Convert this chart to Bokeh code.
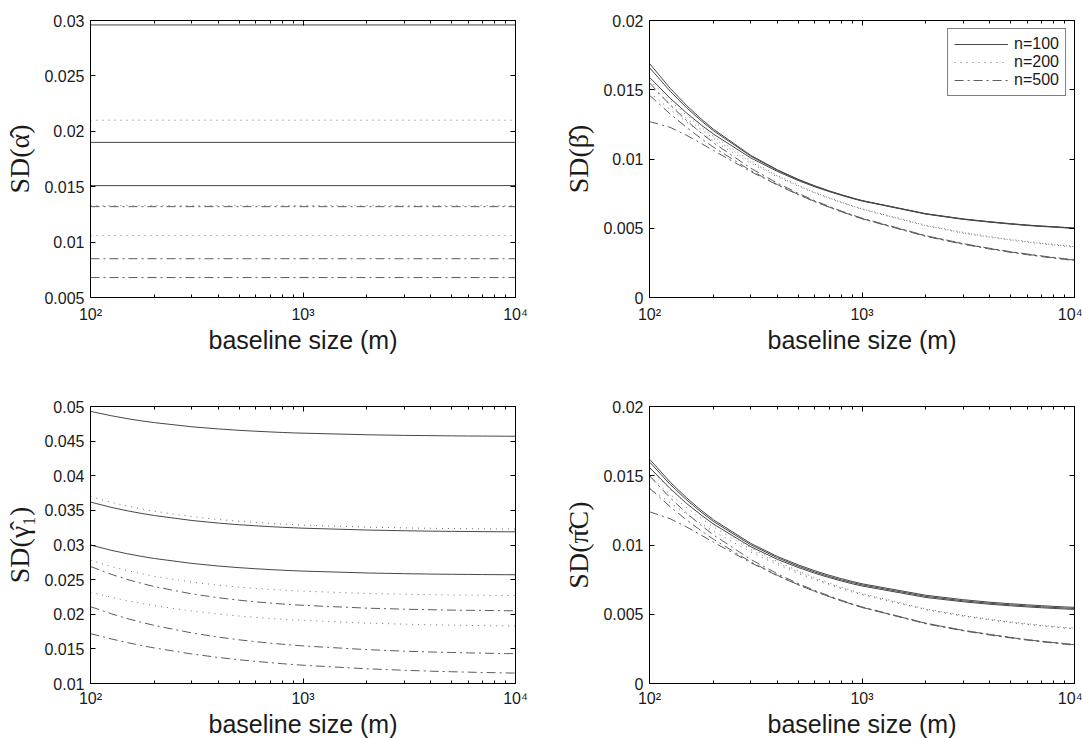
from bokeh.plotting import figure
from bokeh.layouts import column, row
from bokeh.models import (LogAxis, LinearAxis, FixedTicker, CustomJSTickFormatter,
                          Legend, LegendItem, Range1d)
from bokeh.embed import file_html
from bokeh.resources import INLINE

# ---------------- data ----------------
baseline = [100, 125, 150, 175, 200, 300, 400, 500, 600, 700, 800, 900, 1000,
            2000, 3000, 4000, 5000, 6000, 7000, 8000, 9000, 10000]
alpha_x = [100, 10000]

# SD(alpha) : constant in baseline size
alpha_n100 = [0.0296, 0.0190, 0.0151]
alpha_n200 = [0.0210, 0.0133, 0.0106]
alpha_n500 = [0.0132, 0.0085, 0.0068]

# SD(beta)
beta_n100 = [
    [0.0169, 0.01511, 0.01384, 0.01289, 0.01215, 0.01026, 0.00922, 0.00854, 0.00806, 0.00770,
     0.00742, 0.00719, 0.00700, 0.00605, 0.00567, 0.00547, 0.00533, 0.00523, 0.00516, 0.00511,
     0.00506, 0.00502],
    [0.0166, 0.01490, 0.01368, 0.01276, 0.01204, 0.01020, 0.00918, 0.00851, 0.00804, 0.00768,
     0.00741, 0.00718, 0.00699, 0.00604, 0.00566, 0.00546, 0.00532, 0.00522, 0.00515, 0.00510,
     0.00505, 0.00501],
    [0.0159, 0.01439, 0.01330, 0.01246, 0.01180, 0.01007, 0.00910, 0.00845, 0.00799, 0.00765,
     0.00738, 0.00715, 0.00697, 0.00602, 0.00564, 0.00544, 0.00530, 0.00520, 0.00513, 0.00508,
     0.00503, 0.00499],
]
beta_n200 = [
    [0.0157, 0.01422, 0.01314, 0.01230, 0.01163, 0.00986, 0.00882, 0.00812, 0.00760, 0.00720,
     0.00689, 0.00662, 0.00640, 0.00522, 0.00470, 0.00440, 0.00420, 0.00405, 0.00393, 0.00384,
     0.00376, 0.00370],
    [0.0153, 0.01393, 0.01292, 0.01213, 0.01149, 0.00978, 0.00877, 0.00808, 0.00757, 0.00718,
     0.00687, 0.00661, 0.00639, 0.00519, 0.00467, 0.00437, 0.00417, 0.00402, 0.00390, 0.00381,
     0.00373, 0.00367],
    [0.0148, 0.01358, 0.01265, 0.01191, 0.01131, 0.00969, 0.00871, 0.00804, 0.00754, 0.00715,
     0.00685, 0.00659, 0.00637, 0.00516, 0.00464, 0.00434, 0.00414, 0.00399, 0.00387, 0.00378,
     0.00370, 0.00364],
]
beta_n500 = [
    [0.0155, 0.01390, 0.01275, 0.01187, 0.01117, 0.00933, 0.00826, 0.00753, 0.00699, 0.00658,
     0.00624, 0.00596, 0.00573, 0.00446, 0.00389, 0.00355, 0.00331, 0.00314, 0.00300, 0.00289,
     0.00280, 0.00272],
    [0.0146, 0.01326, 0.01226, 0.01148, 0.01085, 0.00916, 0.00815, 0.00745, 0.00693, 0.00653,
     0.00620, 0.00593, 0.00570, 0.00444, 0.00387, 0.00353, 0.00329, 0.00312, 0.00298, 0.00287,
     0.00278, 0.00270],
    [0.0127, 0.01229, 0.01170, 0.01113, 0.01061, 0.00909, 0.00812, 0.00743, 0.00692, 0.00652,
     0.00619, 0.00592, 0.00568, 0.00441, 0.00384, 0.00350, 0.00326, 0.00309, 0.00295, 0.00284,
     0.00275, 0.00267],
]

# SD(gamma_1)
gamma_n100 = [
    [0.0493, 0.04867, 0.04823, 0.04791, 0.04767, 0.04707, 0.04676, 0.04656, 0.04643, 0.04633,
     0.04625, 0.04619, 0.04615, 0.04592, 0.04583, 0.04579, 0.04576, 0.04574, 0.04573, 0.04572,
     0.04571, 0.04570],
    [0.0362, 0.03544, 0.03492, 0.03454, 0.03425, 0.03354, 0.03316, 0.03293, 0.03277, 0.03265,
     0.03256, 0.03249, 0.03243, 0.03216, 0.03206, 0.03200, 0.03197, 0.03195, 0.03193, 0.03192,
     0.03191, 0.03190],
    [0.0300, 0.02924, 0.02872, 0.02834, 0.02805, 0.02734, 0.02696, 0.02673, 0.02657, 0.02645,
     0.02636, 0.02629, 0.02623, 0.02596, 0.02586, 0.02580, 0.02577, 0.02575, 0.02573, 0.02572,
     0.02571, 0.02570],
]
gamma_n200 = [
    [0.0370, 0.03617, 0.03560, 0.03518, 0.03487, 0.03409, 0.03368, 0.03343, 0.03325, 0.03312,
     0.03302, 0.03295, 0.03288, 0.03258, 0.03247, 0.03241, 0.03238, 0.03235, 0.03233, 0.03232,
     0.03231, 0.03230],
    [0.0278, 0.02690, 0.02628, 0.02583, 0.02548, 0.02464, 0.02420, 0.02392, 0.02373, 0.02359,
     0.02348, 0.02340, 0.02333, 0.02300, 0.02289, 0.02282, 0.02278, 0.02276, 0.02274, 0.02272,
     0.02271, 0.02270],
    [0.0232, 0.02246, 0.02194, 0.02155, 0.02124, 0.02046, 0.02003, 0.01975, 0.01955, 0.01940,
     0.01929, 0.01919, 0.01912, 0.01872, 0.01857, 0.01848, 0.01843, 0.01839, 0.01836, 0.01833,
     0.01832, 0.01830],
]
gamma_n500 = [
    [0.0269, 0.02577, 0.02500, 0.02443, 0.02399, 0.02294, 0.02238, 0.02203, 0.02179, 0.02162,
     0.02148, 0.02138, 0.02129, 0.02088, 0.02073, 0.02065, 0.02060, 0.02057, 0.02055, 0.02053,
     0.02051, 0.02050],
    [0.0211, 0.02008, 0.01935, 0.01881, 0.01838, 0.01730, 0.01670, 0.01631, 0.01604, 0.01583,
     0.01567, 0.01554, 0.01543, 0.01489, 0.01467, 0.01455, 0.01448, 0.01442, 0.01438, 0.01435,
     0.01432, 0.01430],
    [0.0172, 0.01644, 0.01589, 0.01547, 0.01513, 0.01426, 0.01376, 0.01343, 0.01319, 0.01301,
     0.01286, 0.01274, 0.01264, 0.01212, 0.01191, 0.01178, 0.01170, 0.01164, 0.01159, 0.01156,
     0.01153, 0.01150],
]

# SD(pi_C)
pi_n100 = [
    [0.0162, 0.01455, 0.01338, 0.01251, 0.01182, 0.01011, 0.00917, 0.00857, 0.00814, 0.00782,
     0.00757, 0.00737, 0.00720, 0.00637, 0.00605, 0.00587, 0.00576, 0.00568, 0.00562, 0.00557,
     0.00553, 0.00550],
    [0.0160, 0.01438, 0.01324, 0.01238, 0.01170, 0.01001, 0.00908, 0.00848, 0.00805, 0.00773,
     0.00748, 0.00729, 0.00712, 0.00629, 0.00597, 0.00579, 0.00568, 0.00560, 0.00554, 0.00549,
     0.00545, 0.00542],
    [0.0156, 0.01408, 0.01298, 0.01217, 0.01151, 0.00987, 0.00896, 0.00838, 0.00796, 0.00765,
     0.00740, 0.00720, 0.00704, 0.00621, 0.00590, 0.00572, 0.00561, 0.00553, 0.00547, 0.00542,
     0.00538, 0.00535],
]
pi_n200 = [
    [0.0155, 0.01405, 0.01298, 0.01217, 0.01151, 0.00980, 0.00880, 0.00813, 0.00764, 0.00726,
     0.00696, 0.00671, 0.00650, 0.00539, 0.00492, 0.00464, 0.00445, 0.00432, 0.00421, 0.00413,
     0.00406, 0.00400],
    [0.0150, 0.01366, 0.01268, 0.01192, 0.01130, 0.00967, 0.00871, 0.00806, 0.00758, 0.00720,
     0.00691, 0.00666, 0.00645, 0.00535, 0.00489, 0.00461, 0.00442, 0.00429, 0.00418, 0.00410,
     0.00403, 0.00397],
    [0.0141, 0.01306, 0.01221, 0.01155, 0.01099, 0.00949, 0.00858, 0.00795, 0.00749, 0.00713,
     0.00684, 0.00660, 0.00640, 0.00532, 0.00485, 0.00458, 0.00439, 0.00426, 0.00415, 0.00407,
     0.00400, 0.00394],
]
pi_n500 = [
    [0.0150, 0.01341, 0.01228, 0.01142, 0.01073, 0.00895, 0.00792, 0.00722, 0.00672, 0.00633,
     0.00601, 0.00575, 0.00553, 0.00435, 0.00384, 0.00354, 0.00333, 0.00317, 0.00305, 0.00296,
     0.00288, 0.00281],
    [0.0141, 0.01277, 0.01179, 0.01103, 0.01041, 0.00878, 0.00781, 0.00714, 0.00666, 0.00628,
     0.00597, 0.00572, 0.00550, 0.00434, 0.00383, 0.00353, 0.00332, 0.00316, 0.00304, 0.00295,
     0.00287, 0.00280],
    [0.0124, 0.01190, 0.01129, 0.01071, 0.01020, 0.00872, 0.00778, 0.00713, 0.00665, 0.00627,
     0.00596, 0.00571, 0.00549, 0.00431, 0.00380, 0.00350, 0.00329, 0.00313, 0.00301, 0.00292,
     0.00284, 0.00277],
]

x_ticks = [100, 1000, 10000]
x_tick_labels = ["10\u00b2", "10\u00b3", "10\u2074"]
x_minor = [200, 300, 400, 500, 600, 700, 800, 900,
           2000, 3000, 4000, 5000, 6000, 7000, 8000, 9000]

alpha_ticks = [0.005, 0.01, 0.015, 0.02, 0.025, 0.03]
alpha_tick_labels = ["0.005", "0.01", "0.015", "0.02", "0.025", "0.03"]
beta_ticks = [0, 0.005, 0.01, 0.015, 0.02]
beta_tick_labels = ["0", "0.005", "0.01", "0.015", "0.02"]
gamma_ticks = [0.01, 0.015, 0.02, 0.025, 0.03, 0.035, 0.04, 0.045, 0.05]
gamma_tick_labels = ["0.01", "0.015", "0.02", "0.025", "0.03", "0.035", "0.04", "0.045", "0.05"]
pi_ticks = beta_ticks
pi_tick_labels = beta_tick_labels

legend_labels = ["n=100", "n=200", "n=500"]

# ---------------- styling ----------------
SANS = "Liberation Sans"
SERIF = "Liberation Serif"
TXT = "#1a1a1a"
STYLES = [
    dict(line_color="#474747", line_width=1.0, line_dash="solid"),
    dict(line_color="#707070", line_width=1.0, line_dash="1 5"),
    dict(line_color="#5c5c5c", line_width=1.0, line_dash="9 4 2 4"),
]

JS_FMT = """
let best = 0;
for (let i = 0; i < tk.length; i++) {
  if (Math.abs(tk[i] - tick) < Math.abs(tk[best] - tick)) best = i;
}
return lb[best];
"""


def fmt(ticks, labels):
    return CustomJSTickFormatter(args=dict(tk=ticks, lb=labels), code=JS_FMT)


def blank_fmt():
    return CustomJSTickFormatter(code="return ' ';")


def make_panel(ylabel, yticks, ylabels, groups, xs, left_col, top_row, legend=False):
    p = figure(
        x_axis_type="log",
        x_range=Range1d(x_ticks[0], x_ticks[-1]),
        y_range=Range1d(yticks[0], yticks[-1]),
        frame_width=425, frame_height=277,
        min_border_left=90 if left_col else 114,
        min_border_right=20 if left_col else 8,
        min_border_top=20 if top_row else 49,
        min_border_bottom=60 if top_row else 55,
        output_backend="svg", toolbar_location=None,
        background_fill_color="white", border_fill_color="white",
    )
    p.xgrid.grid_line_color = None
    p.ygrid.grid_line_color = None
    p.outline_line_color = "black"
    p.outline_line_width = 1
    p.outline_line_alpha = 1.0

    xt = FixedTicker(ticks=x_ticks, minor_ticks=x_minor)
    yt = FixedTicker(ticks=yticks, minor_ticks=[])

    common = dict(axis_line_color="black", major_tick_line_color="black",
                  minor_tick_line_color="black", major_tick_in=5, major_tick_out=0,
                  minor_tick_in=3, minor_tick_out=0)

    xa = p.xaxis[0]
    xa.ticker = xt
    xa.formatter = fmt(x_ticks, x_tick_labels)
    xa.update(**common)
    xa.major_label_text_font = SANS
    xa.major_label_text_font_size = "16px"
    xa.major_label_text_color = TXT
    xa.major_label_standoff = 8 if top_row else 6
    xa.axis_label = "baseline size (m)"
    xa.axis_label_text_font = SANS
    xa.axis_label_text_font_size = "25px"
    xa.axis_label_text_font_style = "normal"
    xa.axis_label_text_color = TXT
    xa.axis_label_standoff = 0

    ya = p.yaxis[0]
    ya.ticker = yt
    ya.formatter = fmt(yticks, ylabels)
    ya.update(**common)
    ya.major_label_text_font = SANS
    ya.major_label_text_font_size = "16px"
    ya.major_label_text_color = TXT
    ya.major_label_standoff = 6
    ya.axis_label = ylabel
    ya.axis_label_text_font = SERIF
    ya.axis_label_text_font_size = "28px"
    ya.axis_label_text_font_style = "normal"
    ya.axis_label_text_color = TXT
    ya.axis_label_standoff = 6

    top = LogAxis(ticker=xt, formatter=blank_fmt(), major_label_text_font_size="2px",
                  major_label_text_alpha=0, major_label_standoff=0, **common)
    p.add_layout(top, "above")
    right = LinearAxis(ticker=yt, formatter=blank_fmt(), major_label_text_font_size="2px",
                       major_label_text_alpha=0, major_label_standoff=0, **common)
    p.add_layout(right, "right")

    firsts = []
    for style, lines in zip(STYLES, groups):
        first = None
        for ys in lines:
            r = p.line(xs(ys), ys, **style)
            if first is None:
                first = r
        firsts.append(first)

    if legend:
        lg = Legend(
            items=[LegendItem(label=lab, renderers=[r]) for lab, r in zip(legend_labels, firsts)],
            location="top_right", margin=8, padding=6, spacing=0,
            glyph_width=54, glyph_height=18, label_height=18, label_standoff=6,
            label_text_font=SANS, label_text_font_size="16px", label_text_color=TXT,
            border_line_color="black", border_line_width=1.2,
            background_fill_color="white", background_fill_alpha=1.0,
        )
        p.add_layout(lg)
    return p


def const(ys):
    return alpha_x


def full(ys):
    return baseline


alpha_groups = [[[v, v] for v in alpha_n100], [[v, v] for v in alpha_n200],
                [[v, v] for v in alpha_n500]]

p1 = make_panel("SD(\u03b1\u0302)", alpha_ticks, alpha_tick_labels, alpha_groups, const, True, True)
p2 = make_panel("SD(\u03b2\u0302)", beta_ticks, beta_tick_labels,
                [beta_n100, beta_n200, beta_n500], full, False, True, legend=True)
p3 = make_panel("SD(\u03b3\u0302\u2081)", gamma_ticks, gamma_tick_labels,
                [gamma_n100, gamma_n200, gamma_n500], full, True, False)
p4 = make_panel("SD(\u03c0\u0302C)", pi_ticks, pi_tick_labels,
                [pi_n100, pi_n200, pi_n500], full, False, False)

layout = column(row(p1, p2), row(p3, p4))

open("out.html", "w").write(file_html(layout, INLINE))
